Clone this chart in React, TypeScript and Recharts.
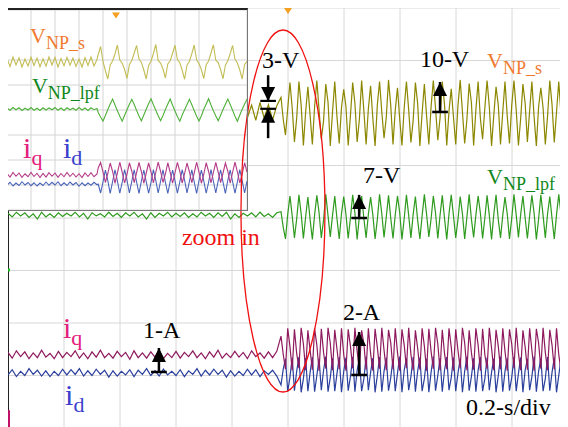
import React from "react";
import {
  LineChart,
  Line,
  XAxis,
  YAxis,
  CartesianGrid,
  ReferenceLine,
  ReferenceDot,
} from "recharts";

// Main screen: 10 x 8 divisions, 0.2 s/div. Values are in screen divisions.
const MAIN_X_TICKS = [0, 0.2, 0.4, 0.6, 0.8, 1.0, 1.2, 1.4, 1.6, 1.8, 2.0];
const Y_TICKS = [0, 1, 2, 3, 4, 5, 6, 7, 8];
// Inset (zoomed) screen, x in divisions
const INSET_X_TICKS = [0, 1, 2, 3, 4, 5, 6, 7, 8, 9, 10];

const MAIN_TIMING = { preDt: 0.015, t0: 0.975, postDt: 0.008 };
const INSET_TIMING = { preDt: 0.125, t0: 3.8, postDt: 0.1 };

// channel levels (div) before / after the step
const mainLevels = { vnpS: [6.02, 6.0], vnpLpf: [4.06, 4.02], iq: [1.39, 1.5], id: [1.05, 1.02] };
const insetLevels = { vnpS: [5.92, 5.92], vnpLpf: [4.04, 4.0], iq: [1.4, 1.48], id: [1.04, 1.14] };

// ---- main traces (deviation from level, div) ----
const mainVnpSPre = [
  0.12, -0.15, 0.16, -0.1, 0.14, -0.17, 0.1, -0.13, 0.17, -0.12,
  0.13, -0.16, 0.11, -0.14, 0.15, -0.11, 0.16, -0.15, 0.12, -0.13,
  0.14, -0.17, 0.1, -0.12, 0.16, -0.14, 0.13, -0.1, 0.15, -0.16,
  0.11, -0.13, 0.17, -0.12, 0.14, -0.15, 0.12, -0.11, 0.16, -0.14,
  0.13, -0.16, 0.1, -0.13, 0.15, -0.12, 0.17, -0.15, 0.11, -0.14,
  0.14, -0.1, 0.16, -0.17, 0.12, -0.13, 0.15, -0.11, 0.13, -0.16,
  0.18, -0.12, 0.14, -0.15, 0.12,
];
const mainVnpSPost = [
  0.3, -0.12, -0.42, 0.08, 0.58, 0.1, -0.55, -0.1,
  0.6, 0.15, -0.62, 0.02, 0.5, -0.05, -0.6, 0.12,
  0.62, 0.05, -0.5, -0.15, 0.55, 0.2, -0.63, 0.02,
  0.6, -0.08, -0.58, 0.1, 0.45, 0.12, -0.62, -0.05,
  0.58, 0.18, -0.55, -0.12, 0.62, 0.04, -0.6, 0.08,
  0.52, -0.1, -0.63, 0.15, 0.6, 0.02, -0.48, -0.08,
  0.63, 0.14, -0.6, 0.05, 0.48, -0.12, -0.62, 0.1,
  0.6, 0.06, -0.56, -0.14, 0.58, 0.18, -0.63, 0.0,
  0.55, -0.06, -0.6, 0.12, 0.62, 0.08, -0.52, -0.1,
  0.6, 0.16, -0.62, 0.04, 0.46, -0.08, -0.6, 0.14,
  0.63, 0.02, -0.58, -0.12, 0.56, 0.2, -0.62, 0.06,
  0.6, -0.1, -0.5, 0.1, 0.62, 0.12, -0.63, -0.04,
  0.5, 0.15, -0.6, 0.02, 0.6, -0.06, -0.58, 0.14,
  0.62, 0.06, -0.62, -0.1, 0.55, 0.18, -0.55, 0.04,
  0.6, -0.08, -0.63, 0.12, 0.48, 0.1, -0.6, -0.06,
  0.62, 0.16, -0.56, 0.02, 0.6, -0.04, -0.62, 0.1,
];
const mainVnpLpfPre = [
  0.03, -0.04, 0.05, -0.02, 0.04, -0.05, 0.02, -0.08, 0.05, -0.04,
  0.02, -0.05, 0.04, -0.03, 0.03, -0.02, 0.05, -0.04, 0.03, -0.08,
  0.04, -0.02, 0.02, -0.04, 0.05, -0.03, 0.03, -0.05, 0.04, -0.02,
  0.05, -0.04, 0.02, -0.08, 0.04, -0.05, 0.03, -0.02, 0.05, -0.04,
  0.03, -0.03, 0.04, -0.05, 0.02, -0.04, 0.05, -0.02, 0.03, -0.05,
  0.04, -0.03, 0.05, -0.08, 0.02, -0.05, 0.03, -0.02, 0.04, -0.04,
  0.05, -0.03, 0.02, -0.05, 0.04,
];
const mainVnpLpfPost = [
  0.1, -0.2, -0.42, 0.05, 0.4, 0.02, -0.4, -0.04,
  0.42, 0.06, -0.41, 0.0, 0.38, -0.05, -0.43, 0.04,
  0.41, 0.08, -0.4, -0.06, 0.43, 0.02, -0.38, 0.03,
  0.4, -0.04, -0.42, 0.06, 0.39, 0.05, -0.41, -0.02,
  0.42, 0.07, -0.43, 0.02, 0.4, -0.03, -0.4, 0.05,
  0.38, 0.04, -0.42, -0.05, 0.43, 0.06, -0.39, 0.0,
  0.41, -0.02, -0.41, 0.04, 0.4, 0.08, -0.43, -0.03,
  0.42, 0.03, -0.4, 0.05, 0.39, -0.06, -0.42, 0.02,
  0.43, 0.05, -0.38, -0.04, 0.4, 0.07, -0.41, 0.03,
  0.41, -0.03, -0.43, 0.06, 0.42, 0.02, -0.4, -0.05,
  0.39, 0.06, -0.42, 0.0, 0.43, -0.04, -0.39, 0.04,
  0.4, 0.08, -0.41, -0.02, 0.41, 0.03, -0.43, 0.05,
  0.42, -0.05, -0.4, 0.03, 0.38, 0.06, -0.42, -0.03,
  0.43, 0.04, -0.39, 0.05, 0.4, -0.02, -0.41, 0.02,
  0.41, 0.07, -0.43, -0.04, 0.42, 0.03, -0.4, 0.06,
  0.39, -0.03, -0.42, 0.04, 0.43, 0.05, -0.4, 0.0,
];
const mainIqPre = [
  0.05, -0.06, 0.08, -0.03, 0.06, -0.07, 0.04, -0.05, 0.09, -0.04,
  0.03, -0.07, 0.07, -0.05, 0.05, -0.03, 0.08, -0.06, 0.04, -0.07,
  0.06, -0.04, 0.09, -0.05, 0.03, -0.06, 0.07, -0.03, 0.05, -0.08,
  0.08, -0.05, 0.04, -0.06, 0.06, -0.04, 0.09, -0.07, 0.03, -0.05,
  0.07, -0.06, 0.05, -0.03, 0.08, -0.05, 0.04, -0.07, 0.06, -0.04,
  0.09, -0.06, 0.03, -0.05, 0.07, -0.04, 0.05, -0.07, 0.08, -0.03,
  0.04, -0.06, 0.06, -0.05, 0.07,
];
const mainIqPost = [
  0.25, -0.1, -0.38, 0.4, 0.05, -0.4, 0.38, -0.08, -0.36,
  0.41, 0.1, -0.4, 0.36, -0.02, -0.39, 0.4, 0.08, -0.41,
  0.39, -0.06, -0.37, 0.41, 0.12, -0.4, 0.37, 0.0, -0.38,
  0.4, -0.1, -0.41, 0.38, 0.06, -0.36, 0.41, -0.04, -0.4,
  0.36, 0.1, -0.39, 0.4, -0.08, -0.41, 0.39, 0.04, -0.37,
  0.41, -0.02, -0.4, 0.37, 0.12, -0.38, 0.4, -0.06, -0.41,
  0.38, 0.08, -0.36, 0.41, -0.1, -0.4, 0.36, 0.02, -0.39,
  0.4, 0.06, -0.41, 0.39, -0.04, -0.37, 0.41, 0.1, -0.4,
  0.37, -0.08, -0.38, 0.4, 0.04, -0.41, 0.38, -0.02, -0.36,
  0.41, 0.12, -0.4, 0.36, -0.06, -0.39, 0.4, 0.08, -0.41,
  0.39, -0.1, -0.37, 0.41, 0.02, -0.4, 0.37, 0.06, -0.38,
  0.4, -0.04, -0.41, 0.38, 0.1, -0.36, 0.41, -0.08, -0.4,
  0.36, 0.04, -0.39, 0.4, -0.02, -0.41, 0.39, 0.12, -0.37,
  0.41, -0.06, -0.4, 0.37, 0.08, -0.38, 0.4, -0.1, -0.41,
  0.38, 0.02,
];
const mainIdPre = [
  -0.04, 0.06, -0.07, 0.03, -0.05, 0.08, -0.03, 0.05, -0.06, 0.04,
  -0.07, 0.03, -0.05, 0.07, -0.04, 0.06, -0.03, 0.08, -0.06, 0.04,
  -0.05, 0.07, -0.03, 0.05, -0.08, 0.04, -0.06, 0.03, -0.04, 0.06,
  -0.07, 0.05, -0.03, 0.08, -0.05, 0.04, -0.06, 0.07, -0.04, 0.03,
  -0.05, 0.06, -0.07, 0.04, -0.03, 0.08, -0.06, 0.05, -0.04, 0.07,
  -0.03, 0.05, -0.08, 0.04, -0.06, 0.03, -0.05, 0.07, -0.04, 0.06,
  -0.07, 0.04, -0.03, 0.05, -0.06,
];
const mainIdPost = [
  -0.2, 0.1, 0.3, -0.33, -0.05, 0.32, -0.31, 0.06, 0.33,
  -0.34, -0.08, 0.31, -0.32, 0.04, 0.33, -0.33, -0.02, 0.3,
  -0.3, 0.08, 0.34, -0.33, -0.06, 0.31, -0.32, 0.02, 0.33,
  -0.34, 0.06, 0.32, -0.31, -0.04, 0.33, -0.33, 0.08, 0.3,
  -0.32, -0.08, 0.34, -0.3, 0.04, 0.31, -0.34, -0.02, 0.33,
  -0.33, 0.06, 0.32, -0.31, -0.06, 0.3, -0.32, 0.02, 0.34,
  -0.34, 0.08, 0.31, -0.3, -0.04, 0.33, -0.33, 0.06, 0.32,
  -0.32, -0.08, 0.3, -0.34, 0.04, 0.34, -0.31, -0.02, 0.31,
  -0.33, 0.08, 0.33, -0.3, -0.06, 0.32, -0.32, 0.02, 0.3,
  -0.34, 0.06, 0.34, -0.31, -0.04, 0.31, -0.33, 0.08, 0.33,
  -0.32, -0.08, 0.32, -0.3, 0.04, 0.3, -0.34, -0.02, 0.34,
  -0.33, 0.06, 0.31, -0.31, -0.06, 0.33, -0.32, 0.02, 0.32,
  -0.34, 0.08, 0.3, -0.3, -0.04, 0.34, -0.33, 0.06, 0.31,
  -0.32, -0.08, 0.33, -0.31, 0.04, 0.32, -0.34, -0.02, 0.3,
  -0.33, 0.06,
];

// ---- inset traces ----
const insetVnpSPre = [
  0.15, -0.18, 0.2, -0.12, 0.17, -0.2, 0.12, -0.16, 0.19, -0.14,
  0.16, -0.19, 0.13, -0.17, 0.2, -0.12, 0.18, -0.2, 0.14, -0.15,
  0.19, -0.13, 0.16, -0.18, 0.12, -0.2, 0.17, -0.14, 0.2, -0.16,
  0.1,
];
const insetVnpSPost = [
  0.3, 0.62, 0.02, -0.35, -0.68, -0.12, 0.04, 0.32,
  0.68, 0.08, -0.05, -0.3, -0.66, -0.1, 0.06, 0.36,
  0.66, 0.12, -0.02, -0.32, -0.68, -0.14, 0.03, 0.34,
  0.7, 0.06, -0.04, -0.28, -0.64, -0.08, 0.05, 0.35,
  0.67, 0.1, -0.03, -0.33, -0.69, -0.12, 0.02, 0.33,
  0.68, 0.09, -0.06, -0.31, -0.66, -0.11, 0.04, 0.36,
  0.69, 0.07, -0.02, -0.3, -0.67, -0.13, 0.05, 0.34,
  0.66, 0.11, -0.04, -0.32, -0.68, -0.1, 0.03,
];
const insetVnpLpfPre = [
  0.04, -0.05, 0.06, -0.03, 0.05, -0.06, 0.03, -0.04, 0.06, -0.05,
  0.03, -0.06, 0.05, -0.04, 0.04, -0.03, 0.06, -0.05, 0.04, -0.06,
  0.05, -0.03, 0.03, -0.05, 0.06, -0.04, 0.04, -0.06, 0.05, -0.03,
  0.02,
];
const insetVnpLpfPost = [
  -0.1, -0.28, -0.44, -0.22, 0.02, 0.24, 0.44, 0.2,
  -0.03, -0.25, -0.45, -0.21, 0.01, 0.23, 0.43, 0.22,
  -0.02, -0.24, -0.44, -0.2, 0.03, 0.25, 0.45, 0.21,
  -0.01, -0.23, -0.43, -0.22, 0.02, 0.24, 0.44, 0.19,
  -0.04, -0.26, -0.45, -0.2, 0.01, 0.22, 0.43, 0.21,
  -0.02, -0.25, -0.44, -0.23, 0.03, 0.24, 0.45, 0.2,
  -0.03, -0.24, -0.43, -0.21, 0.02, 0.23, 0.44, 0.22,
  -0.01, -0.25, -0.45, -0.2, 0.03, 0.24, 0.43,
];
const insetIqPre = [
  0.06, -0.08, 0.1, -0.05, 0.08, -0.09, 0.05, -0.07, 0.1, -0.06,
  0.07, -0.1, 0.06, -0.08, 0.09, -0.05, 0.08, -0.09, 0.06, -0.07,
  0.1, -0.06, 0.07, -0.08, 0.05, -0.1, 0.08, -0.06, 0.09, -0.07,
  0.04,
];
const insetIqPost = [
  0.2, 0.42, 0.04, -0.38, -0.02, 0.4, 0.06, -0.41,
  0.0, 0.43, 0.03, -0.4, -0.04, 0.41, 0.07, -0.39,
  0.02, 0.42, 0.05, -0.41, -0.01, 0.4, 0.04, -0.4,
  0.03, 0.43, 0.06, -0.38, -0.03, 0.41, 0.02, -0.41,
  0.01, 0.42, 0.07, -0.4, -0.02, 0.4, 0.05, -0.39,
  0.0, 0.43, 0.04, -0.41, -0.04, 0.41, 0.06, -0.4,
  0.02, 0.42, 0.03, -0.38, -0.01, 0.4, 0.07, -0.41,
  0.03, 0.43, 0.05, -0.4, -0.03, 0.41, 0.04,
];
const insetIdPre = [
  -0.05, 0.07, -0.08, 0.04, -0.06, 0.09, -0.04, 0.06, -0.07, 0.05,
  -0.08, 0.04, -0.06, 0.08, -0.05, 0.07, -0.04, 0.09, -0.07, 0.05,
  -0.06, 0.08, -0.04, 0.06, -0.09, 0.05, -0.07, 0.04, -0.05, 0.07,
  -0.03,
];
const insetIdPost = [
  -0.1, -0.46, -0.02, 0.46, 0.04, -0.48, 0.0, 0.47,
  0.02, -0.47, -0.03, 0.48, 0.05, -0.46, 0.01, 0.47,
  -0.02, -0.48, 0.03, 0.46, 0.0, -0.47, -0.04, 0.48,
  0.04, -0.46, 0.02, 0.47, -0.03, -0.48, 0.01, 0.46,
  0.03, -0.47, -0.02, 0.48, 0.05, -0.46, 0.0, 0.47,
  -0.01, -0.48, 0.04, 0.46, 0.02, -0.47, -0.03, 0.48,
  0.01, -0.46, 0.03, 0.47, -0.02, -0.48, 0.05, 0.46,
  0.0, -0.47, -0.01, 0.48, 0.03, -0.46, 0.02,
];

type Pt = { t: number; v: number };
type Timing = { preDt: number; t0: number; postDt: number };

function trace(pre: number[], post: number[], levels: number[], tm: Timing): Pt[] {
  const a = pre.map((d, i) => ({ t: +(i * tm.preDt).toFixed(4), v: levels[0] + d }));
  const b = post.map((d, i) => ({ t: +(tm.t0 + i * tm.postDt).toFixed(4), v: levels[1] + d }));
  return a.concat(b);
}

const main = {
  vnpS: trace(mainVnpSPre, mainVnpSPost, mainLevels.vnpS, MAIN_TIMING),
  vnpLpf: trace(mainVnpLpfPre, mainVnpLpfPost, mainLevels.vnpLpf, MAIN_TIMING),
  iq: trace(mainIqPre, mainIqPost, mainLevels.iq, MAIN_TIMING),
  id: trace(mainIdPre, mainIdPost, mainLevels.id, MAIN_TIMING),
};
const inset = {
  vnpS: trace(insetVnpSPre, insetVnpSPost, insetLevels.vnpS, INSET_TIMING),
  vnpLpf: trace(insetVnpLpfPre, insetVnpLpfPost, insetLevels.vnpLpf, INSET_TIMING),
  iq: trace(insetIqPre, insetIqPost, insetLevels.iq, INSET_TIMING),
  id: trace(insetIdPre, insetIdPost, insetLevels.id, INSET_TIMING),
};

// "zoom in" ellipse centre, in main and in inset coordinates
const ZOOM_MAIN = { x: 0.982, y: 4.133 };
const ZOOM_INSET = { x: 11.5, y: -0.04 };

const FONT = "'Liberation Serif', 'Times New Roman', serif";
const ORANGE = "#f07a30";
const GREEN_TXT = "#10871a";
const PINK_TXT = "#e3207c";
const BLUE_TXT = "#3b3fcc";

// ---- annotation shapes (anchored on data coordinates) ----
const textShape = (label: string, color = "#000", size = 24) => (p: any) => (
  <text x={p.cx} y={p.cy} fill={color} fontSize={size} fontFamily={FONT}>
    {label}
  </text>
);
const subShape = (big: string, sub: string, color: string, size = 22, subSize = 18, dy = 6) => (p: any) => (
  <text x={p.cx} y={p.cy} fill={color} fontFamily={FONT}>
    <tspan fontSize={size}>{big}</tspan>
    <tspan fontSize={subSize} dy={dy}>{sub}</tspan>
  </text>
);
const headShape = (dir: "up" | "down") => (p: any) => {
  const h = dir === "up" ? 14 : -14;
  return <polygon points={`${p.cx},${p.cy} ${p.cx - 7},${p.cy + h} ${p.cx + 7},${p.cy + h}`} fill="#000" />;
};
const triggerShape = (p: any) => (
  <polygon points={`${p.cx - 4},${p.cy} ${p.cx + 4},${p.cy} ${p.cx},${p.cy + 6}`} fill="#f3a020" />
);
const ellipseShape = (p: any) => (
  <ellipse cx={p.cx} cy={p.cy} rx={42} ry={181} fill="none" stroke="#f01010" strokeWidth={1.3} />
);

const BAR = 0.028; // half width of arrow base bars (s)

function arrow(key: string, x: number, base: number, tip: number, bar = true) {
  const dir = tip > base ? "up" : "down";
  const els = [
    <ReferenceLine
      key={key + "s"}
      segment={[{ x, y: base }, { x, y: tip }]}
      stroke="#000"
      strokeWidth={2.5}
      ifOverflow="visible"
    />,
    <ReferenceDot key={key + "h"} x={x} y={tip} r={1} ifOverflow="visible" shape={headShape(dir)} />,
  ];
  if (bar) {
    els.push(
      <ReferenceLine
        key={key + "b"}
        segment={[{ x: x - BAR, y: base }, { x: x + BAR, y: base }]}
        stroke="#000"
        strokeWidth={2.5}
        ifOverflow="visible"
      />
    );
  }
  return els;
}

function barLine(key: string, x: number, y: number) {
  return (
    <ReferenceLine
      key={key}
      segment={[{ x: x - BAR, y }, { x: x + BAR, y }]}
      stroke="#000"
      strokeWidth={2.2}
      ifOverflow="visible"
    />
  );
}

function label(key: string, x: number, y: number, shape: any) {
  return <ReferenceDot key={key} x={x} y={y} r={1} ifOverflow="visible" shape={shape} />;
}

export default function App() {
  return (
    <div style={{ position: "relative", width: 560, height: 420, background: "#fff" }}>
      <style>{"body{overflow:hidden;background:#fff}"}</style>

      {/* main screen */}
      <LineChart width={560} height={420} margin={{ top: 0, right: 0, bottom: 0, left: 0 }}>
        <XAxis type="number" dataKey="t" domain={[0, 2]} ticks={MAIN_X_TICKS} hide />
        <YAxis type="number" domain={[0, 8]} ticks={Y_TICKS} hide />
        <CartesianGrid stroke="#d8d8d8" strokeWidth={1} />
        <ReferenceLine x={0} stroke="#222" strokeWidth={2} />
        <ReferenceLine segment={[{ x: 0, y: 0 }, { x: 0, y: 0.34 }]} stroke="#c0106a" strokeWidth={4} ifOverflow="visible" />
        <ReferenceLine segment={[{ x: 0, y: 2.98 }, { x: 0, y: 3.04 }]} stroke="#20c020" strokeWidth={4} ifOverflow="visible" />
        <Line data={main.vnpS} dataKey="v" type="linear" dot={false} stroke="#8c8700" strokeWidth={1.2} isAnimationActive={false} />
        <Line data={main.vnpLpf} dataKey="v" type="linear" dot={false} stroke="#2e9a1e" strokeWidth={1.2} isAnimationActive={false} />
        <Line data={main.id} dataKey="v" type="linear" dot={false} stroke="#2b3f9c" strokeWidth={1.2} isAnimationActive={false} />
        <Line data={main.iq} dataKey="v" type="linear" dot={false} stroke="#8e1a5e" strokeWidth={1.2} isAnimationActive={false} />
        <ReferenceDot x={1.0} y={8} r={1} ifOverflow="visible" shape={triggerShape} />
        <ReferenceDot x={ZOOM_MAIN.x} y={ZOOM_MAIN.y} r={1} ifOverflow="visible" shape={ellipseShape} />
        {arrow("a3d", 0.929, 6.72, 6.23, false)}
        {barLine("b3a", 0.929, 6.23)}
        {barLine("b3b", 0.929, 6.08)}
        {arrow("a3u", 0.929, 5.52, 6.08, false)}
        {arrow("a10", 1.543, 6.02, 6.59)}
        {arrow("a7", 1.254, 4.0, 4.44)}
        {arrow("a1", 0.539, 1.067, 1.524)}
        {arrow("a2", 1.254, 1.01, 1.829)}
        {label("t3", 0.907, 6.857, textShape("3-V"))}
        {label("t10", 1.471, 6.876, textShape("10-V"))}
        {label("t7", 1.268, 4.667, textShape("7-V"))}
        {label("t1", 0.482, 1.714, textShape("1-A"))}
        {label("t2", 1.196, 2.057, textShape("2-A"))}
        {label("tdiv", 1.636, 0.248, textShape("0.2-s/div"))}
        {label("tzoom", 0.621, 3.486, textShape("zoom in", "#f01010"))}
        {label("mVs", 1.711, 6.857, subShape("V", "NP_s", ORANGE))}
        {label("mVl", 1.711, 4.648, subShape("V", "NP_lpf", GREEN_TXT))}
        {label("mIq", 0.196, 1.714, subShape("i", "q", PINK_TXT, 30, 22, 7))}
        {label("mId", 0.204, 0.438, subShape("i", "d", BLUE_TXT, 30, 22, 7))}
      </LineChart>

      {/* zoomed inset */}
      <div
        style={{
          position: "absolute",
          left: -2,
          top: 0,
          width: 240,
          height: 200,
          border: "1px solid #777",
          borderTop: "2px solid #222",
          background: "#fff",
        }}
      >
        <LineChart width={240} height={200} margin={{ top: 0, right: 0, bottom: 0, left: 0 }}>
          <XAxis type="number" dataKey="t" domain={[0, 10]} ticks={INSET_X_TICKS} hide />
          <YAxis type="number" domain={[0, 8]} ticks={Y_TICKS} hide />
          <CartesianGrid stroke="#d4d4d4" strokeWidth={1} />
          <Line data={inset.vnpS} dataKey="v" type="linear" dot={false} stroke="#c2bd55" strokeWidth={1.1} isAnimationActive={false} />
          <Line data={inset.vnpLpf} dataKey="v" type="linear" dot={false} stroke="#4fb03a" strokeWidth={1.1} isAnimationActive={false} />
          <Line data={inset.id} dataKey="v" type="linear" dot={false} stroke="#4a62b8" strokeWidth={1.1} isAnimationActive={false} />
          <Line data={inset.iq} dataKey="v" type="linear" dot={false} stroke="#b43c88" strokeWidth={1.1} isAnimationActive={false} />
          <ReferenceDot x={4.54} y={7.9} r={1} ifOverflow="visible" shape={triggerShape} />
          {label("iVs", 0.96, 6.68, subShape("V", "NP_s", ORANGE))}
          {label("iVl", 1.04, 4.68, subShape("V", "NP_lpf", GREEN_TXT))}
          {label("iIq", 0.67, 2.08, subShape("i", "q", PINK_TXT, 30, 22, 7))}
          {label("iId", 2.33, 2.08, subShape("i", "d", BLUE_TXT, 30, 22, 7))}
          {/* the red ellipse passes over the inset's lower-right corner */}
          <ReferenceDot x={ZOOM_INSET.x} y={ZOOM_INSET.y} r={1} ifOverflow="visible" shape={ellipseShape} />
        </LineChart>
      </div>
    </div>
  );
}
